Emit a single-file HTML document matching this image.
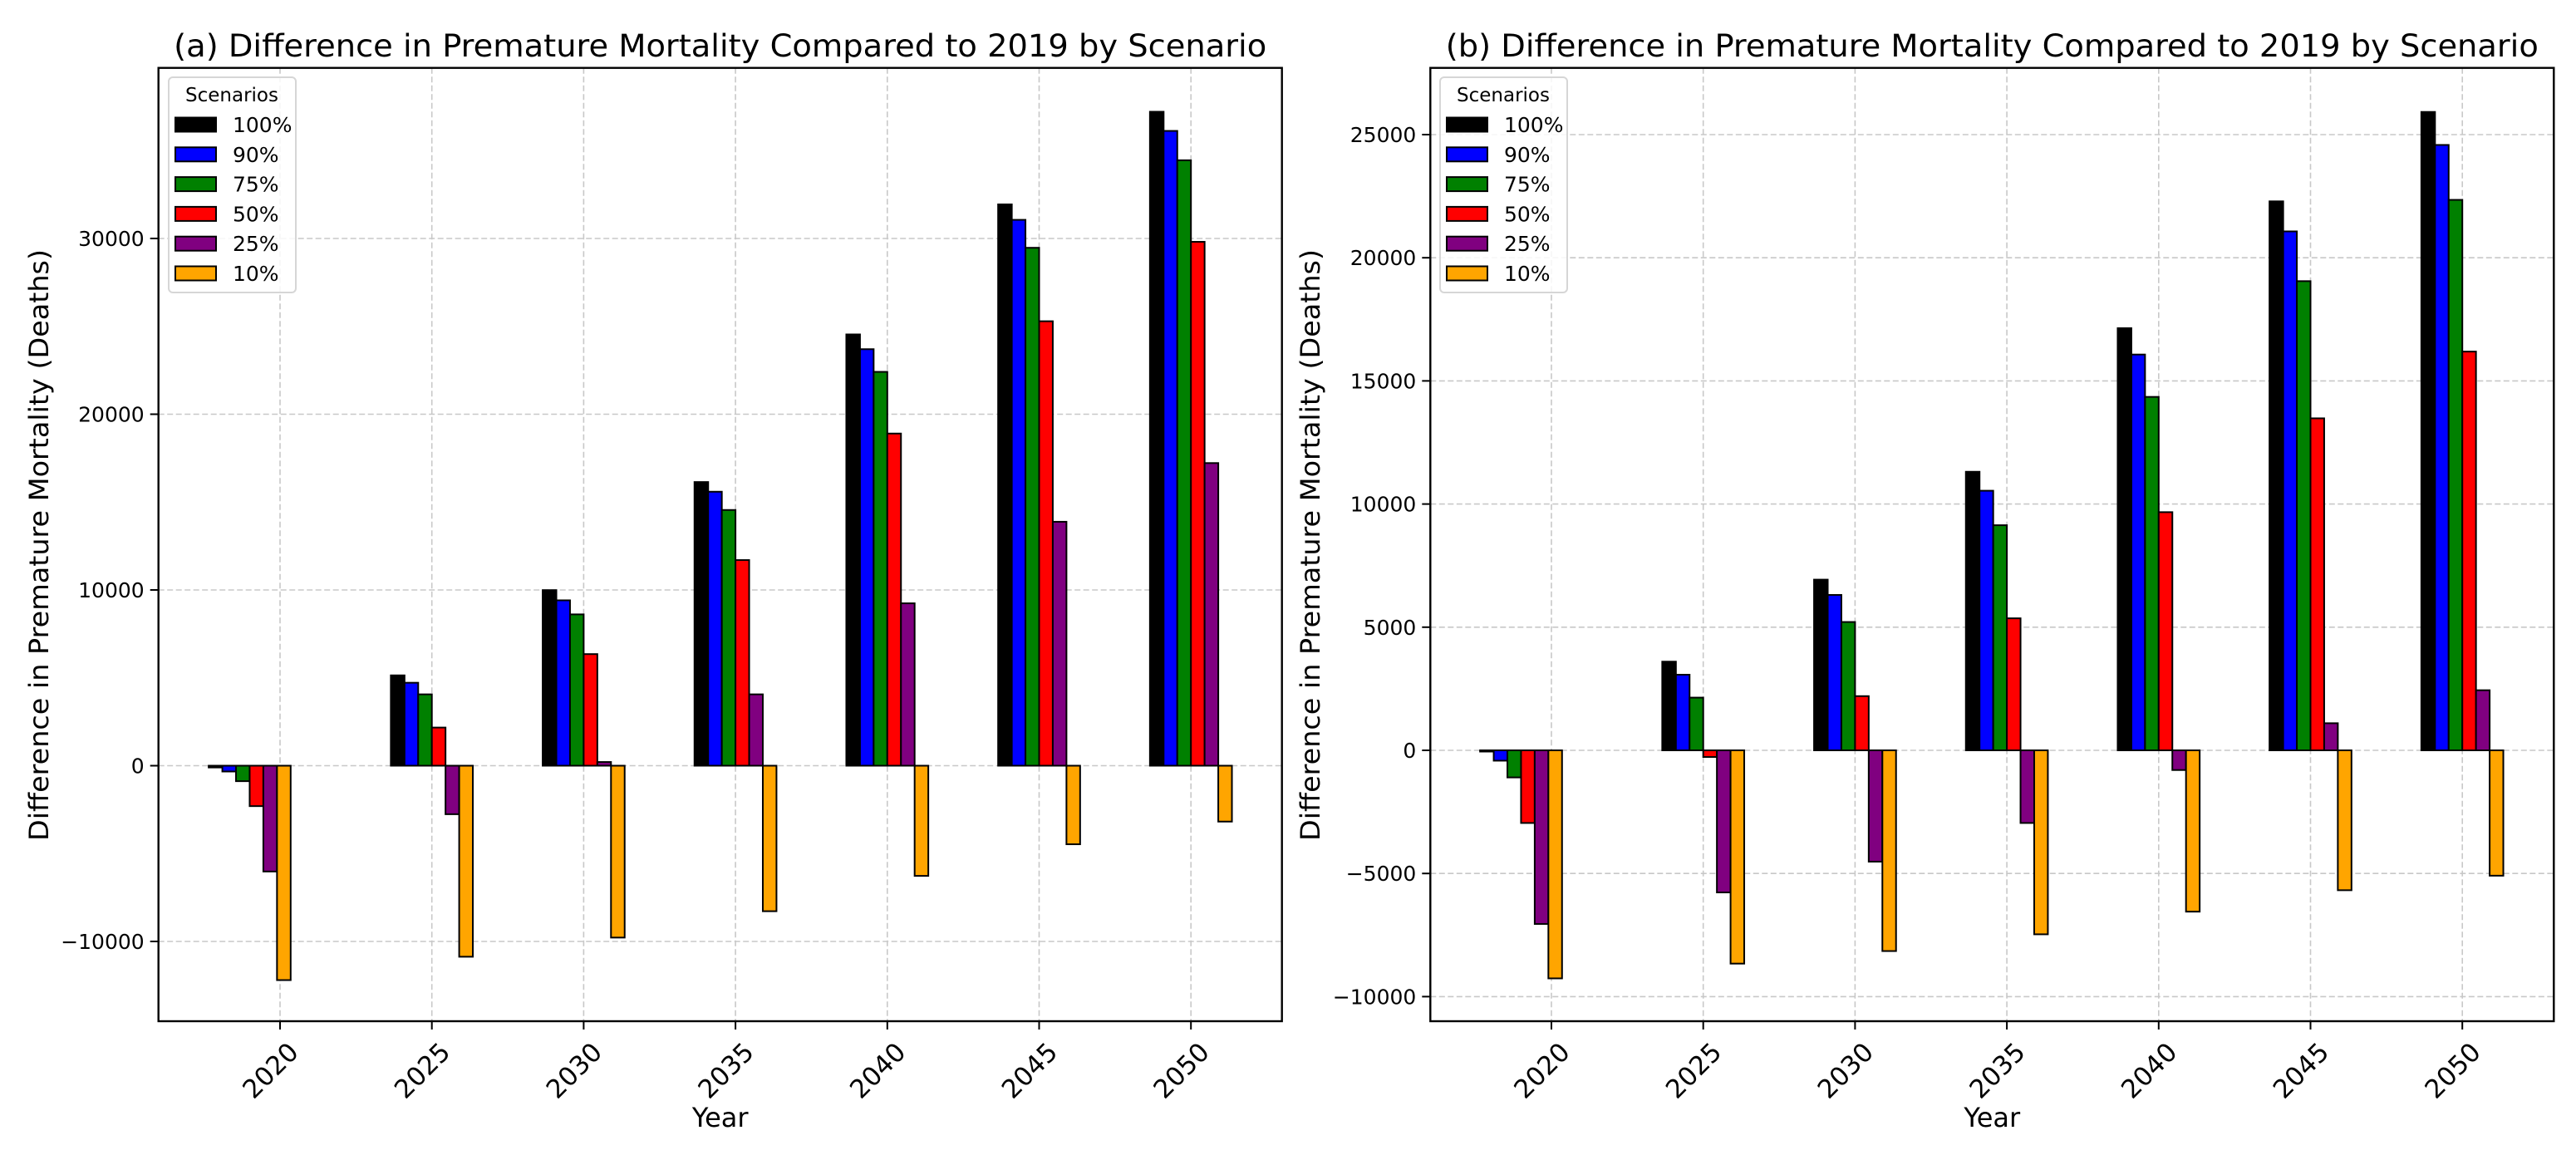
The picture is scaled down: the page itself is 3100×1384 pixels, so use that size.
<!DOCTYPE html>
<html><head><meta charset="utf-8"><style>
html,body{margin:0;padding:0;background:#fff;}
svg{display:block;font-family:"DejaVu Sans","Liberation Sans",sans-serif;}
</style></head><body>
<svg id="fig" width="3100" height="1384" viewBox="0 0 3100 1384" xmlns="http://www.w3.org/2000/svg"></svg>
<script>
// ---- data ----
const yearLabels = [2020, 2025, 2030, 2035, 2040, 2045, 2050];
const groupX = [2019, 2025, 2030, 2035, 2040, 2045, 2050];
const scenarios = ["100%", "90%", "75%", "50%", "25%", "10%"];
const colors = ["#000000", "#0000ff", "#008000", "#ff0000", "#800080", "#ffa500"];
// panel (a)
const a100 = [-100, 5140, 9990, 16140, 24540, 31940, 37210];
const a90  = [-330, 4720, 9410, 15590, 23700, 31060, 36120];
const a75  = [-880, 4060, 8610, 14550, 22410, 29470, 34450];
const a50  = [-2300, 2170, 6350, 11700, 18900, 25290, 29810];
const a25  = [-6020, -2760, 210, 4060, 9240, 13880, 17220];
const a10  = [-12200, -10870, -9780, -8280, -6270, -4470, -3180];
const aTicks = [-10000, 0, 10000, 20000, 30000];
// panel (b)
const b100 = [-50, 3600, 6930, 11310, 17140, 22290, 25920];
const b90  = [-420, 3070, 6310, 10540, 16070, 21070, 24580];
const b75  = [-1100, 2140, 5210, 9140, 14350, 19050, 22350];
const b50  = [-2950, -270, 2200, 5360, 9670, 13480, 16190];
const b25  = [-7050, -5770, -4520, -2950, -800, 1100, 2440];
const b10  = [-9260, -8660, -8150, -7470, -6550, -5680, -5090];
const bTicks = [-10000, -5000, 0, 5000, 10000, 15000, 20000, 25000];

const NS = "http://www.w3.org/2000/svg";
const fig = document.getElementById("fig");
function mk(tag, attrs, parent) {
  const e = document.createElementNS(NS, tag);
  for (const k in attrs) e.setAttribute(k, attrs[k]);
  (parent || fig).appendChild(e);
  return e;
}

function panel(opt) {
  const g = mk("g", {});
  
  
  const L = opt.left, R = opt.left + 1352, T = 81.7, B = 1229;
  const pxPerYear = 36.54;
  const xs = yr => opt.tick2020 + (yr - 2020) * pxPerYear;
  const ys = v => opt.zeroY - v * opt.pxPerUnit;
  const barW = 0.45;

  yearLabels.forEach(yr => {
    const gl = mk("line", {x1: xs(yr), x2: xs(yr), y1: T, y2: B, stroke: "#c8c8c8", "stroke-width": 1.6, "stroke-dasharray": "7,3.5"}, g);
    
    
  });
  opt.ticks.forEach(t => {
    const gl = mk("line", {x1: L, x2: R, y1: ys(t), y2: ys(t), stroke: "#c8c8c8", "stroke-width": 1.6, "stroke-dasharray": "7,3.5"}, g);
    
    
  });

  opt.series.forEach((ser, i) => {
    ser.forEach((v, j) => {
      const cx = groupX[j] + (i - 2.5) * barW;
      const x0 = xs(cx - barW / 2), x1 = xs(cx + barW / 2);
      const y0 = ys(Math.max(v, 0)), y1 = ys(Math.min(v, 0));
      const r = mk("rect", {x: x0, y: y0, width: x1 - x0, height: Math.max(y1 - y0, 0.5), fill: colors[i], stroke: "#000", "stroke-width": 2}, g);
      
      
    });
  });

  const fr = mk("rect", {x: L, y: T, width: R - L, height: B - T, fill: "none", stroke: "#000", "stroke-width": 2.4}, g);
  
  

  opt.ticks.forEach(t => {
    mk("line", {x1: L - 10, x2: L, y1: ys(t), y2: ys(t), stroke: "#000", "stroke-width": 2}, g);
    const tx = mk("text", {x: L - 17, y: ys(t) + 9, "text-anchor": "end", "font-size": 25, fill: "#000"}, g);
    tx.textContent = t < 0 ? "\u2212" + Math.abs(t) : String(t);
    
    
  });
  yearLabels.forEach(yr => {
    const x = xs(yr);
    mk("line", {x1: x, x2: x, y1: B, y2: B + 10, stroke: "#000", "stroke-width": 2}, g);
    const tx = mk("text", {x: 0, y: 0, "text-anchor": "middle", "font-size": 31, fill: "#000", transform: "translate(" + (x - 4) + ",1296) rotate(-45)"}, g);
    tx.textContent = String(yr);
    
    
  });

  const title = mk("text", {x: (L + R) / 2, y: 68, "text-anchor": "middle", "font-size": 37, fill: "#000", textLength: 1315, lengthAdjust: "spacingAndGlyphs"}, g);
  title.textContent = opt.title;
  
  

  const xl = mk("text", {x: (L + R) / 2, y: 1356, "text-anchor": "middle", "font-size": 32, fill: "#000"}, g);
  xl.textContent = "Year";
  
  

  const yl = mk("text", {x: 0, y: 0, "text-anchor": "middle", "font-size": 32, fill: "#000", textLength: 712, lengthAdjust: "spacingAndGlyphs", transform: "translate(" + opt.ylabelX + ",656) rotate(-90)"}, g);
  yl.textContent = "Difference in Premature Mortality (Deaths)";
  
  

  const lg = mk("g", {}, g);
  
  
  const lx = opt.legendX;
  mk("rect", {x: lx, y: 93, width: 153, height: 259, rx: 5, fill: "#fff", "fill-opacity": 0.85, stroke: "#d6d6d6", "stroke-width": 2}, lg);
  const lt = mk("text", {x: lx + 76, y: 122, "text-anchor": "middle", "font-size": 23, fill: "#000"}, lg);
  lt.textContent = "Scenarios";
  
  
  scenarios.forEach((s, i) => {
    const cy = 150 + i * 35.8;
    const e = mk("g", {}, lg);
    
    
    mk("rect", {x: lx + 8, y: cy - 8.5, width: 49, height: 17, fill: colors[i], stroke: "#000", "stroke-width": 2}, e);
    const t = mk("text", {x: lx + 77, y: cy + 9, "font-size": 25, fill: "#000"}, e);
    t.textContent = s;
  });
}

panel({name: "panel-a", left: 190.7, tick2020: 337, zeroY: 921.5, pxPerUnit: 0.02115, ticks: aTicks,
  series: [a100, a90, a75, a50, a25, a10], title: "(a) Difference in Premature Mortality Compared to 2019 by Scenario",
  ylabelX: 58, legendX: 203});
panel({name: "panel-b", left: 1721.3, tick2020: 1867, zeroY: 903, pxPerUnit: 0.02964, ticks: bTicks,
  series: [b100, b90, b75, b50, b25, b10], title: "(b) Difference in Premature Mortality Compared to 2019 by Scenario",
  ylabelX: 1588, legendX: 1733});
</script>
</body></html>
